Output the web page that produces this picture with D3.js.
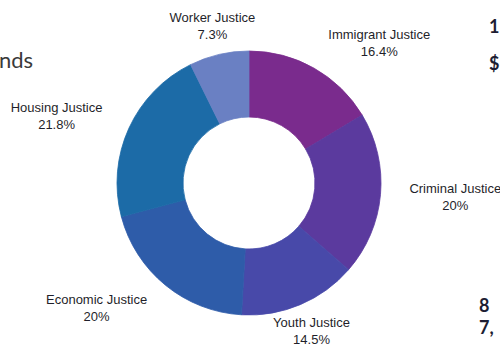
<!DOCTYPE html>
<html>
<head>
<meta charset="utf-8">
<script src="https://cdn.jsdelivr.net/npm/d3@7"></script>
<style>
  html, body { margin: 0; padding: 0; background: #ffffff; }
  svg { display: block; }
</style>
</head>
<body>
<svg id="chart" width="500" height="347"></svg>
<script>
// Share of grants by issue area, clockwise from 12 o'clock
const categories = ["Immigrant Justice", "Criminal Justice", "Youth Justice", "Economic Justice", "Housing Justice", "Worker Justice"];
const shares = [16.4, 20, 14.5, 20, 21.8, 7.3];
const sliceColors = ["#7a2b8d", "#5b3a9e", "#4849a9", "#2e5ca9", "#1c6ba7", "#6a80c3"];

const cx = 249, cy = 183;
const outerR = 132, innerR = 66, labelR = 161;

const svg = d3.select("#chart");

// Fragments of the surrounding page that fall inside the frame
svg.append("text")
  .attr("x", 33).attr("y", 68)
  .attr("text-anchor", "end")
  .attr("font-family", "Lato, 'Open Sans', sans-serif")
  .attr("font-size", 22)
  .attr("fill", "#3a3a3a")
  .text("nds");

const sideText = [
  { t: "1", x: 489, y: 33 },
  { t: "$", x: 489, y: 70 },
  { t: "8", x: 479, y: 312 },
  { t: "7,", x: 479, y: 334 }
];
svg.selectAll("text.side").data(sideText).join("text")
  .attr("class", "side")
  .attr("x", d => d.x).attr("y", d => d.y)
  .attr("font-family", "Lato, 'Open Sans', sans-serif")
  .attr("font-weight", 700)
  .attr("font-size", 18)
  .attr("fill", "#1d1d33")
  .text(d => d.t);

const data = categories.map((c, i) => ({ name: c, value: shares[i], color: sliceColors[i] }));

const pie = d3.pie().value(d => d.value).sort(null).startAngle(0).endAngle(2 * Math.PI);
const arcs = pie(data);
const arc = d3.arc().innerRadius(innerR).outerRadius(outerR);

const g = svg.append("g").attr("transform", `translate(${cx},${cy})`);

g.selectAll("path.slice").data(arcs).join("path")
  .attr("class", "slice")
  .attr("d", arc)
  .attr("fill", d => d.data.color)
  .attr("stroke", d => d.data.color)
  .attr("stroke-width", 0.8)
  .attr("stroke-linejoin", "round");

// Two-line labels outside the ring, anchored by side
const fmt = v => `${v}%`;
g.selectAll("text.lbl").data(arcs).join("text")
  .attr("class", "lbl")
  .attr("font-family", "'Liberation Sans', Arial, sans-serif")
  .attr("font-size", 13)
  .attr("fill", "#1f1f2a")
  .each(function(d) {
    const a = (d.startAngle + d.endAngle) / 2;
    const s = Math.sin(a), c = Math.cos(a);
    const px = labelR * s, py = -labelR * c;
    const anchor = s > 0.45 ? "start" : (s < -0.45 ? "end" : "middle");
    const t = d3.select(this);
    const name = t.append("tspan").attr("x", px).attr("y", py - 4)
      .attr("text-anchor", anchor).text(d.data.name);
    const bb = name.node().getBBox();
    // percentage is centered under the name
    t.append("tspan").attr("x", bb.x + bb.width / 2).attr("y", py + 13)
      .attr("text-anchor", "middle").text(fmt(d.data.value));
  });
</script>
</body>
</html>
